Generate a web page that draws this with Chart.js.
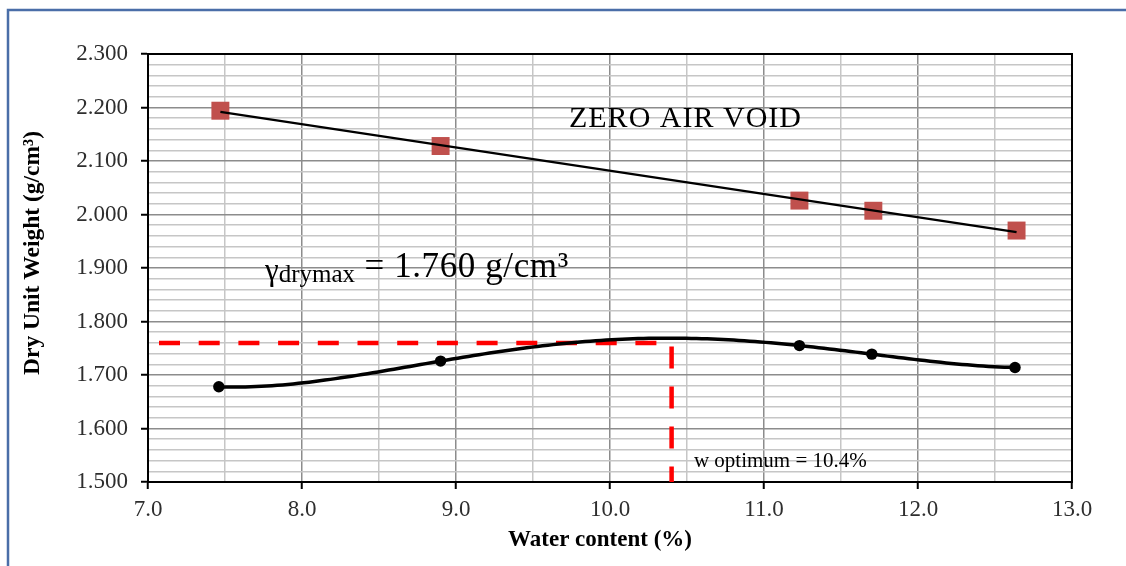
<!DOCTYPE html>
<html>
<head>
<meta charset="utf-8">
<script src="https://cdn.jsdelivr.net/npm/chart.js@4.4.1/dist/chart.umd.min.js"></script>
<style>
  html, body { margin: 0; padding: 0; background: #fff; overflow: hidden; }
  #wrap { position: relative; width: 1126px; height: 566px; }
</style>
</head>
<body>
<div id="wrap"><canvas id="chart"></canvas></div>
<script>
// Proctor compaction test results
const waterContent = [7.46, 8.90, 11.23, 11.70, 12.63];
const dryUnitWeight = [1.678, 1.726, 1.755, 1.739, 1.714];

// zero air void points
const zavWater = [7.47, 8.90, 11.23, 11.71, 12.64];
const zavWeight = [2.194, 2.128, 2.026, 2.007, 1.970];

const gammaDryMax = 1.760;
const wOptimum = 10.4;

// labelled ticks
const xTickLabels = ['7.0', '8.0', '9.0', '10.0', '11.0', '12.0', '13.0'];
const yTickLabels = ['1.500', '1.600', '1.700', '1.800', '1.900', '2.000', '2.100', '2.200', '2.300'];

const SERIF = "'Liberation Serif', 'Times New Roman', serif";
const MAJOR = '#8c8c8c', MINOR = '#c6c6c6';

const isXMajor = v => xTickLabels.includes(v.toFixed(1));
const isYMajor = v => yTickLabels.includes(v.toFixed(3));

// least squares line
function linearFit(xs, ys) {
  const n = xs.length;
  const mx = xs.reduce((a, b) => a + b, 0) / n;
  const my = ys.reduce((a, b) => a + b, 0) / n;
  let sxy = 0, sxx = 0;
  xs.forEach((x, i) => { sxy += (x - mx) * (ys[i] - my); sxx += (x - mx) * (x - mx); });
  const b = sxy / sxx;
  return x => my + b * (x - mx);
}

// least squares polynomial (normal equations, centred on mean x)
function polyFit(xs, ys, deg) {
  const mx = xs.reduce((a, b) => a + b, 0) / xs.length;
  const n = deg + 1;
  const A = Array.from({length: n}, () => new Array(n + 1).fill(0));
  xs.forEach((x0, k) => {
    const x = x0 - mx;
    for (let i = 0; i < n; i++) {
      for (let j = 0; j < n; j++) A[i][j] += Math.pow(x, i + j);
      A[i][n] += Math.pow(x, i) * ys[k];
    }
  });
  for (let c = 0; c < n; c++) {
    let p = c;
    for (let r = c + 1; r < n; r++) if (Math.abs(A[r][c]) > Math.abs(A[p][c])) p = r;
    [A[c], A[p]] = [A[p], A[c]];
    for (let r = 0; r < n; r++) {
      if (r === c) continue;
      const f = A[r][c] / A[c][c];
      for (let k = c; k <= n; k++) A[r][k] -= f * A[c][k];
    }
  }
  const coef = A.map((row, i) => row[n] / row[i]);
  return x => coef.reduce((s, c, i) => s + c * Math.pow(x - mx, i), 0);
}

const zavLine = linearFit(zavWater, zavWeight);
const zavEnds = [zavWater[0], zavWater[zavWater.length - 1]];

const compaction = polyFit(waterContent, dryUnitWeight, 4);
const wMin = Math.min(...waterContent), wMax = Math.max(...waterContent);
const curve = [];
for (let i = 0; i <= 150; i++) {
  const x = wMin + (wMax - wMin) * i / 150;
  curve.push({x, y: compaction(x)});
}

const xMin = +xTickLabels[0], xMax = +xTickLabels[xTickLabels.length - 1];
const yMin = +yTickLabels[0], yMax = +yTickLabels[yTickLabels.length - 1];

const overlay = {
  id: 'overlay',
  beforeDraw(chart) {
    const {ctx} = chart;
    ctx.save();
    ctx.fillStyle = '#fff';
    ctx.fillRect(0, 0, chart.width, chart.height);
    ctx.strokeStyle = '#4a6ea8';
    ctx.lineWidth = 2.5;
    ctx.strokeRect(8, 10, chart.width + 20, chart.height + 20);
    ctx.restore();
  },
  beforeDatasetsDraw(chart) {
    const {ctx, chartArea: a} = chart;
    ctx.save();
    ctx.strokeStyle = '#000';
    ctx.lineWidth = 2;
    ctx.strokeRect(a.left, a.top, a.right - a.left, a.bottom - a.top);
    ctx.restore();
  },
  afterDatasetsDraw(chart) {
    const {ctx, scales: {x, y}} = chart;
    ctx.save();
    ctx.fillStyle = '#000';
    ctx.textBaseline = 'alphabetic';

    ctx.font = '30px ' + SERIF;
    ctx.textAlign = 'center';
    ctx.letterSpacing = '1px';
    ctx.fillText('ZERO AIR VOID', x.getPixelForValue(10.49), y.getPixelForValue(2.163));
    ctx.letterSpacing = '0px';

    ctx.textAlign = 'left';
    let px = x.getPixelForValue(7.76);
    const base = y.getPixelForValue(1.884);
    ctx.font = '31px ' + SERIF;
    ctx.fillText('\u03b3', px, base + 3);
    px += ctx.measureText('\u03b3').width;
    ctx.font = '25px ' + SERIF;
    ctx.fillText('drymax', px, base + 5);
    px += ctx.measureText('drymax').width;
    ctx.font = '35px ' + SERIF;
    ctx.letterSpacing = '0.6px';
    ctx.fillText(' = ' + gammaDryMax.toFixed(3) + ' g/cm\u00b3', px, base);
    ctx.letterSpacing = '0px';

    ctx.font = '21px ' + SERIF;
    ctx.fillText('w optimum = ' + wOptimum + '%', x.getPixelForValue(10.545), y.getPixelForValue(1.528));
    ctx.restore();
  },
  afterDraw(chart) {
    const {ctx} = chart;
    ctx.save();
    ctx.fillStyle = '#000';
    ctx.textAlign = 'center';
    ctx.textBaseline = 'middle';
    ctx.font = 'bold 23px ' + SERIF;
    ctx.fillText('Water content (%)', 600, 540);
    ctx.translate(33, 253);
    ctx.rotate(-Math.PI / 2);
    ctx.font = 'bold 23.5px ' + SERIF;
    ctx.fillText('Dry Unit Weight (g/cm\u00b3)', 0, 0);
    ctx.restore();
  }
};

new Chart(document.getElementById('chart'), {
  type: 'scatter',
  data: {
    datasets: [
      {
        label: 'Compaction points',
        data: waterContent.map((w, i) => ({x: w, y: dryUnitWeight[i]})),
        pointStyle: 'circle',
        pointRadius: 5.7,
        pointBackgroundColor: '#000',
        pointBorderWidth: 0,
        order: 0
      },
      {
        label: 'Compaction curve',
        data: curve,
        showLine: true,
        pointRadius: 0,
        borderColor: '#000',
        borderWidth: 3.5,
        order: 1
      },
      {
        label: 'Max dry unit weight',
        data: [{x: xMin, y: gammaDryMax}, {x: wOptimum, y: gammaDryMax}],
        showLine: true,
        pointRadius: 0,
        borderColor: '#ff0000',
        borderWidth: 4.5,
        borderDash: [21, 18.7],
        borderDashOffset: 28.7,
        order: 2
      },
      {
        label: 'Optimum water content',
        data: [{x: wOptimum, y: gammaDryMax}, {x: wOptimum, y: yMin}],
        showLine: true,
        pointRadius: 0,
        borderColor: '#ff0000',
        borderWidth: 4.5,
        borderDash: [22, 18],
        borderDashOffset: 36.5,
        order: 2
      },
      {
        label: 'Zero air void line',
        data: zavEnds.map(w => ({x: w, y: zavLine(w)})),
        showLine: true,
        pointRadius: 0,
        borderColor: '#000',
        borderWidth: 2.2,
        order: 3
      },
      {
        label: 'Zero air void',
        data: zavWater.map((w, i) => ({x: w, y: zavWeight[i]})),
        pointStyle: 'rect',
        pointRadius: 12.7,
        pointBackgroundColor: '#c0504d',
        pointBorderWidth: 0,
        order: 4
      }
    ]
  },
  options: {
    responsive: true,
    maintainAspectRatio: false,
    animation: false,
    events: [],
    layout: {padding: {left: 10, top: 54, right: 54, bottom: 12}},
    plugins: {legend: {display: false}, tooltip: {enabled: false}},
    scales: {
      x: {
        type: 'linear',
        min: xMin,
        max: xMax,
        afterFit: s => { s.height = 72; },
        border: {color: '#000', width: 2},
        grid: {
          color: c => isXMajor(c.tick.value) ? MAJOR : MINOR,
          lineWidth: 1.5,
          tickLength: 7,
          tickWidth: 2,
          tickColor: c => isXMajor(c.tick.value) ? '#000' : 'rgba(0,0,0,0)'
        },
        ticks: {
          stepSize: 0.5,
          autoSkip: false,
          maxRotation: 0,
          padding: 7,
          color: '#2e2e2e',
          font: {family: SERIF, size: 23},
          callback: v => isXMajor(v) ? v.toFixed(1) : ''
        }
      },
      y: {
        type: 'linear',
        min: yMin,
        max: yMax,
        afterFit: s => { s.width = 138; },
        border: {color: '#000', width: 2},
        grid: {
          color: c => isYMajor(c.tick.value) ? MAJOR : MINOR,
          lineWidth: 1.5,
          tickLength: 7,
          tickWidth: 2,
          tickColor: c => isYMajor(c.tick.value) ? '#000' : 'rgba(0,0,0,0)'
        },
        ticks: {
          stepSize: 0.02,
          autoSkip: false,
          padding: 13,
          color: '#2e2e2e',
          font: {family: SERIF, size: 23},
          callback: v => isYMajor(v) ? v.toFixed(3) : ''
        }
      }
    }
  },
  plugins: [overlay]
});
</script>
</body>
</html>
